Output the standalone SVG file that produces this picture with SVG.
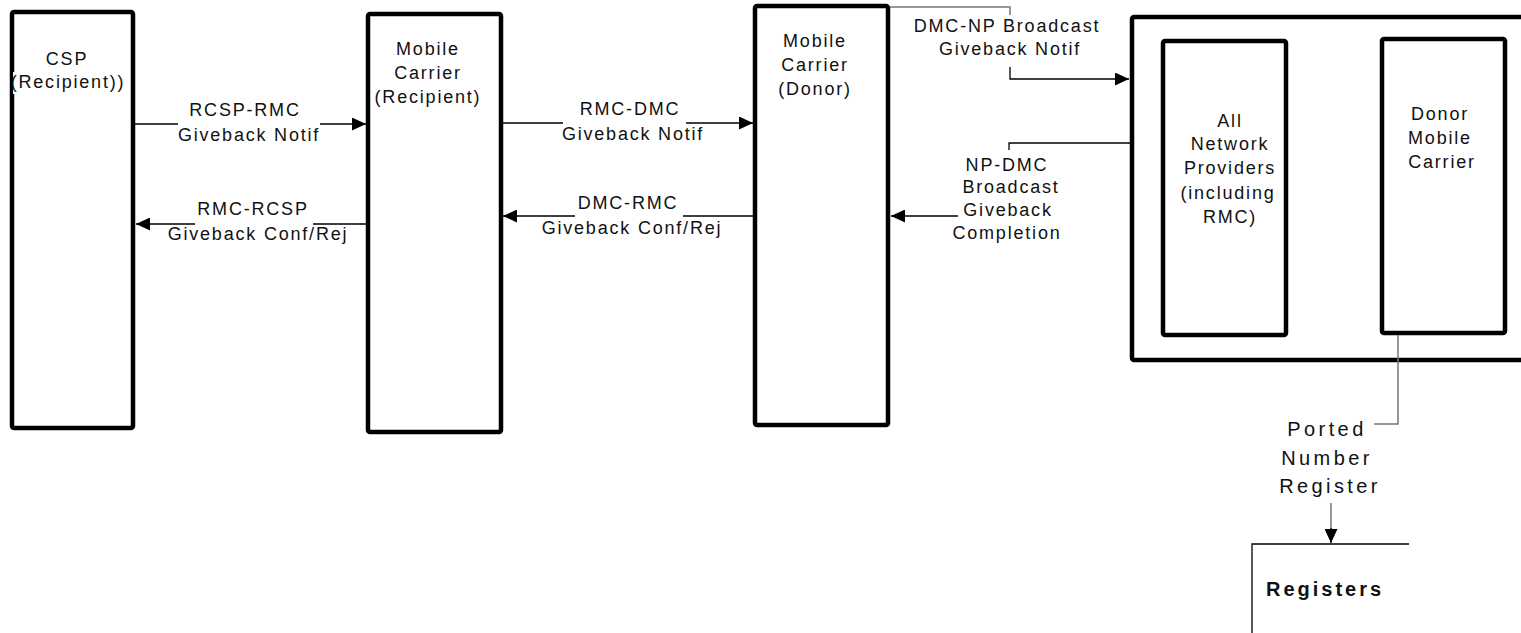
<svg xmlns="http://www.w3.org/2000/svg" width="1521" height="633" viewBox="0 0 1521 633">
<style>
.box{fill:#fff;stroke:#000;stroke-width:4.5;}
.t{font-family:"Liberation Sans",Arial,sans-serif;font-size:18px;letter-spacing:1.8px;fill:#111;text-anchor:middle;}
.p{font-family:"Liberation Sans",Arial,sans-serif;font-size:20px;letter-spacing:3.4px;fill:#111;text-anchor:middle;}
.b{font-family:"Liberation Sans",Arial,sans-serif;font-size:20px;font-weight:bold;letter-spacing:3px;fill:#111;}
.c{fill:none;stroke:#000;stroke-width:1.3;}
.g{fill:none;stroke:#777;stroke-width:1.5;}
.a{marker-end:url(#ah);}
</style>
<defs>
<marker id="ah" markerUnits="userSpaceOnUse" markerWidth="14" markerHeight="13" refX="14" refY="6.5" orient="auto">
<path d="M0,0 L14,6.5 L0,13 z" fill="#000"/>
</marker>
</defs>
<rect width="1521" height="633" fill="#fff"/>
<g id="csp">
<rect class="box" x="12" y="12" width="121" height="416" rx="2"/>
<rect x="13" y="72" width="112" height="22" fill="#fff"/>
<text class="t" x="67" y="65">CSP</text>
<text class="t" x="68" y="88">(Recipient))</text>
</g>
<g id="rmc">
<rect class="box" x="368" y="14" width="133" height="418" rx="2"/>
<text class="t" x="428" y="55">Mobile</text>
<text class="t" x="428" y="79">Carrier</text>
<text class="t" x="428" y="103">(Recipient)</text>
</g>
<g id="dmc">
<rect class="box" x="755" y="6" width="133" height="419" rx="2"/>
<text class="t" x="815" y="47">Mobile</text>
<text class="t" x="815" y="71">Carrier</text>
<text class="t" x="815" y="95">(Donor)</text>
</g>
<g id="np-group">
<rect class="box" x="1132" y="17" width="440" height="343" rx="2"/>
</g>
<g id="all-np">
<rect class="box" x="1163" y="41" width="123" height="294" rx="2"/>
<text class="t" x="1230" y="127">All</text>
<text class="t" x="1230" y="150">Network</text>
<text class="t" x="1230" y="174">Providers</text>
<text class="t" x="1228" y="199">(including</text>
<text class="t" x="1230" y="223">RMC)</text>
</g>
<g id="donor-mc">
<rect class="box" x="1382" y="39" width="123" height="294" rx="2"/>
<text class="t" x="1440" y="120">Donor</text>
<text class="t" x="1440" y="144">Mobile</text>
<text class="t" x="1442" y="168">Carrier</text>
</g>
<g id="registers">
<path class="c" d="M1409,544 H1252 V633"/>
<text class="b" x="1266" y="596">Registers</text>
</g>
<g id="connectors">
<path class="c a" d="M135,124 H178 M320,124 H366"/>
<text class="t" x="245" y="116">RCSP-RMC</text>
<text class="t" x="249" y="141">Giveback Notif</text>
<path class="c a" d="M366,224 H313 M195,224 H136"/>
<text class="t" x="253" y="215">RMC-RCSP</text>
<text class="t" x="258" y="240">Giveback  Conf/Rej</text>
<path class="c a" d="M502,123 H563 M686,123 H753"/>
<text class="t" x="630" y="115">RMC-DMC</text>
<text class="t" x="633" y="140">Giveback Notif</text>
<path class="c a" d="M753,216 H683 M575,216 H503"/>
<text class="t" x="628" y="209">DMC-RMC</text>
<text class="t" x="632" y="234">Giveback  Conf/Rej</text>
<path class="g" d="M890,7 H1010 V15"/>
<path class="c a" d="M1010,67 V79 H1129"/>
<text class="t" x="1007" y="32">DMC-NP Broadcast</text>
<text class="t" x="1010" y="55">Giveback Notif</text>
<path class="c" d="M1130,143 H1009 V150"/>
<path class="c a" d="M958,216 H891"/>
<text class="t" x="1007" y="171">NP-DMC</text>
<text class="t" x="1011" y="193">Broadcast</text>
<text class="t" x="1008" y="216">Giveback</text>
<text class="t" x="1007" y="239">Completion</text>
<path class="g" d="M1398,335 V424 H1374"/>
<path class="g" d="M1331,503 V530"/>
<path class="c a" d="M1331,528 V543"/>
<text class="p" x="1327" y="436">Ported</text>
<text class="p" x="1327" y="465">Number</text>
<text class="p" x="1330" y="493">Register</text>
</g>
</svg>
